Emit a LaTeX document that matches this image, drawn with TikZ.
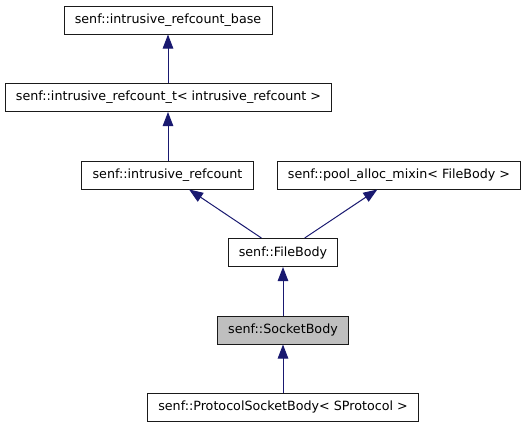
\documentclass[tikz,border=0pt]{standalone}
\usepackage{fontspec}
\setsansfont{DejaVu Sans}
\usepackage{xcolor}
\usepackage{tikz}
\usetikzlibrary{arrows.meta, positioning}
\definecolor{edgenavy}{HTML}{191970}
\definecolor{currentgray}{HTML}{BFBFBF}
\definecolor{borderdark}{HTML}{1A1A1A}

\begin{document}
\begin{tikzpicture}[x=1bp, y=-1bp, font=\sffamily\fontsize{12.7bp}{15bp}\selectfont,
  classbox/.style={draw=borderdark, line width=1bp, fill=white, minimum height=28bp, inner xsep=10.8bp, inner ysep=0pt},
  inherit/.style={-{Triangle[length=14bp, width=10.5bp]}, edgenavy, line width=1bp}]
  \useasboundingbox (0,0) rectangle (525,427);

  % Base classes
  \node[classbox] (refbase) at (168,20) {senf::intrusive\_refcount\_base};
  \node[classbox] (reft) at (168.5,97.5) {senf::intrusive\_refcount\_t< intrusive\_refcount >};
  \node[classbox] (refcount) at (167.5,175) {senf::intrusive\_refcount};
  \node[classbox] (poolmixin) at (399,175) {senf::pool\_alloc\_mixin< FileBody >};

  % File and socket bodies
  \node[classbox] (filebody) at (283,252.5) {senf::FileBody};
  \node[classbox, fill=currentgray] (socketbody) at (283,330) {senf::SocketBody};
  \node[classbox] (protobody) at (283,407) {senf::ProtocolSocketBody< SProtocol >};

  % Inheritance edges
  \draw[inherit] (reft.north -| refbase) -- (refbase);
  \draw[inherit] (refcount.north -| refbase) -- (reft.south -| refbase);
  \draw[inherit] (filebody) -- (refcount);
  \draw[inherit] (filebody) -- (poolmixin);
  \draw[inherit] (socketbody) -- (filebody);
  \draw[inherit] (protobody) -- (socketbody);
\end{tikzpicture}
\end{document}
